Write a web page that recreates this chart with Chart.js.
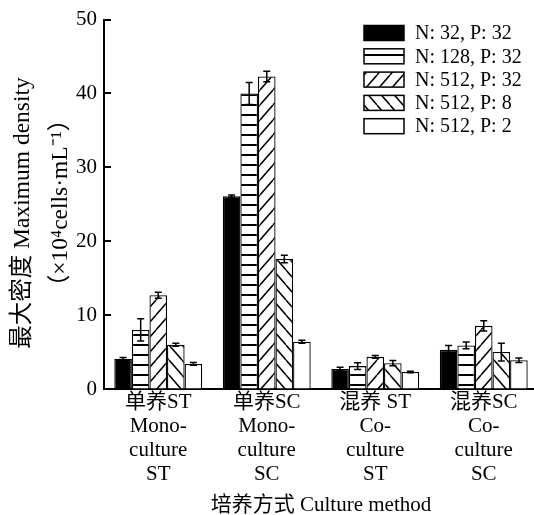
<!DOCTYPE html>
<html>
<head>
<meta charset="utf-8">
<script src="https://cdn.jsdelivr.net/npm/chart.js@4.4.1/dist/chart.umd.min.js"></script>
<style>
    html, body { margin: 0; padding: 0; background: #fff; overflow: hidden; width: 534px; height: 515px; }
    #wrap { width: 540px; height: 515px; }
</style>
</head>
<body>
<div id="wrap"><canvas id="chart" width="540" height="515"></canvas></div>
<script>
// Culture methods (multi-line x labels)
const categories = [
    ['单养ST', 'Mono-', 'culture', 'ST'],
    ['单养SC', 'Mono-', 'culture', 'SC'],
    ['混养 ST', 'Co-', 'culture', 'ST'],
    ['混养SC', 'Co-', 'culture', 'SC']
];
const seriesNames = ['N: 32, P: 32', 'N: 128, P: 32', 'N: 512, P: 32', 'N: 512, P: 8', 'N: 512, P: 2'];

// Maximum density (x10^4 cells/mL) and error
const n32p32 = [4.1, 26.1, 2.7, 5.3];
const n32p32Err = [0.15, 0.15, 0.25, 0.6];
const n128p32 = [8.0, 40.0, 3.1, 5.9];
const n128p32Err = [1.5, 1.5, 0.45, 0.45];
const n512p32 = [12.7, 42.3, 4.35, 8.55];
const n512p32Err = [0.4, 0.7, 0.2, 0.7];
const n512p8 = [6.0, 17.6, 3.5, 5.0];
const n512p8Err = [0.2, 0.5, 0.35, 1.2];
const n512p2 = [3.4, 6.4, 2.3, 3.9];
const n512p2Err = [0.2, 0.2, 0.1, 0.3];

const yTicks = [0, 10, 20, 30, 40, 50];

const SERIF = "'Liberation Serif', 'Noto Sans CJK SC', serif";
Chart.defaults.font.family = SERIF;
Chart.defaults.font.size = 21;
Chart.defaults.color = '#000';

// hatch fills
function hatch(kind) {
    const c = document.createElement('canvas');
    const w = kind === 'h' ? 8 : 13, h = kind === 'h' ? 10 : 15;
    c.width = w; c.height = h;
    const g = c.getContext('2d');
    g.fillStyle = '#fff';
    g.fillRect(0, 0, w, h);
    g.strokeStyle = '#000';
    g.lineWidth = kind === 'h' ? 2 : 1.5;
    g.beginPath();
    if (kind === 'h') {
        g.moveTo(0, 5); g.lineTo(w, 5);
    } else if (kind === '/') {
        for (let k = -1; k <= 1; k++) { g.moveTo(k * w, h); g.lineTo(k * w + w, 0); }
    } else {
        for (let k = -1; k <= 1; k++) { g.moveTo(k * w, 0); g.lineTo(k * w + w, h); }
    }
    g.stroke();
    return g.createPattern(c, 'repeat');
}

const ctx = document.getElementById('chart').getContext('2d');
const fills = ['#000', hatch('h'), hatch('/'), hatch('\\'), '#fff'];
const values = [n32p32, n128p32, n512p32, n512p8, n512p2];
const errs = [n32p32Err, n128p32Err, n512p32Err, n512p8Err, n512p2Err];

const errorBars = {
    id: 'errorBars',
    afterDatasetsDraw(chart) {
        const c = chart.ctx, y = chart.scales.y;
        c.save();
        c.strokeStyle = '#000';
        c.lineWidth = 1.5;
        chart.data.datasets.forEach((ds, i) => {
            chart.getDatasetMeta(i).data.forEach((bar, j) => {
                const v = ds.data[j], e = ds.errors[j];
                const t = y.getPixelForValue(v + e), b = y.getPixelForValue(v - e);
                c.beginPath();
                c.moveTo(bar.x, t); c.lineTo(bar.x, b);
                c.moveTo(bar.x - 3.5, t); c.lineTo(bar.x + 3.5, t);
                c.moveTo(bar.x - 3.5, b); c.lineTo(bar.x + 3.5, b);
                c.stroke();
            });
        });
        c.restore();
    }
};

// inward ticks, titles and legend box
const decorations = {
    id: 'decorations',
    afterDraw(chart) {
        const c = chart.ctx, y = chart.scales.y, area = chart.chartArea;
        c.save();
        c.strokeStyle = '#000';
        c.lineWidth = 2;
        c.beginPath();
        yTicks.forEach(v => {
            const py = Math.round(y.getPixelForValue(v));
            c.moveTo(area.left, py); c.lineTo(area.left + 7, py);
        });
        c.stroke();

        c.fillStyle = '#000';
        c.font = '21px ' + SERIF;
        c.textAlign = 'center';
        c.textBaseline = 'middle';
        c.fillText('培养方式 Culture method', (area.left + area.right) / 2, 505);

        c.font = '23.5px ' + SERIF;
        c.save();
        c.translate(23, 213);
        c.rotate(-Math.PI / 2);
        c.fillText('最大密度 Maximum density', 0, 0);
        c.restore();
        c.save();
        c.translate(61, 203);
        c.rotate(-Math.PI / 2);
        c.fillText('（×10⁴cells·mL⁻¹）', 0, 0);
        c.restore();

        // legend
        c.font = '20px ' + SERIF;
        c.textAlign = 'left';
        chart.data.datasets.forEach((ds, i) => {
            const cy = 33 + i * 23.3;
            c.fillStyle = ds.backgroundColor;
            c.fillRect(364, cy - 7.5, 40, 15);
            c.lineWidth = 1.5;
            c.strokeRect(364, cy - 7.5, 40, 15);
            c.fillStyle = '#000';
            c.fillText(ds.label, 415, cy + 1);
        });
        c.restore();
    }
};

new Chart(ctx, {
    type: 'bar',
    data: {
        labels: categories,
        datasets: seriesNames.map((name, i) => ({
            label: name,
            data: values[i],
            errors: errs[i],
            backgroundColor: fills[i],
            borderColor: '#000',
            borderWidth: 1.3,
            categoryPercentage: 0.81,
            barPercentage: 1.0
        }))
    },
    options: {
        responsive: false,
        animation: false,
        layout: { padding: { top: 19, right: 2, left: 0, bottom: 0 } },
        plugins: { legend: { display: false }, tooltip: { enabled: false } },
        scales: {
            x: {
                grid: { drawOnChartArea: false, drawTicks: false },
                border: { color: '#000', width: 2 },
                ticks: { color: '#000', padding: 1, font: { family: SERIF, size: 21, lineHeight: 24 / 21 }, maxRotation: 0, autoSkip: false },
                afterFit: s => { s.height = 126; }
            },
            y: {
                min: 0, max: 50,
                afterBuildTicks: s => { s.ticks = yTicks.map(v => ({ value: v })); },
                grid: { drawOnChartArea: false, drawTicks: false },
                border: { color: '#000', width: 2 },
                ticks: { color: '#000', padding: 7, font: { family: SERIF, size: 21 } },
                afterFit: s => { s.width = 104; }
            }
        }
    },
    plugins: [errorBars, decorations]
});
</script>
</body>
</html>
